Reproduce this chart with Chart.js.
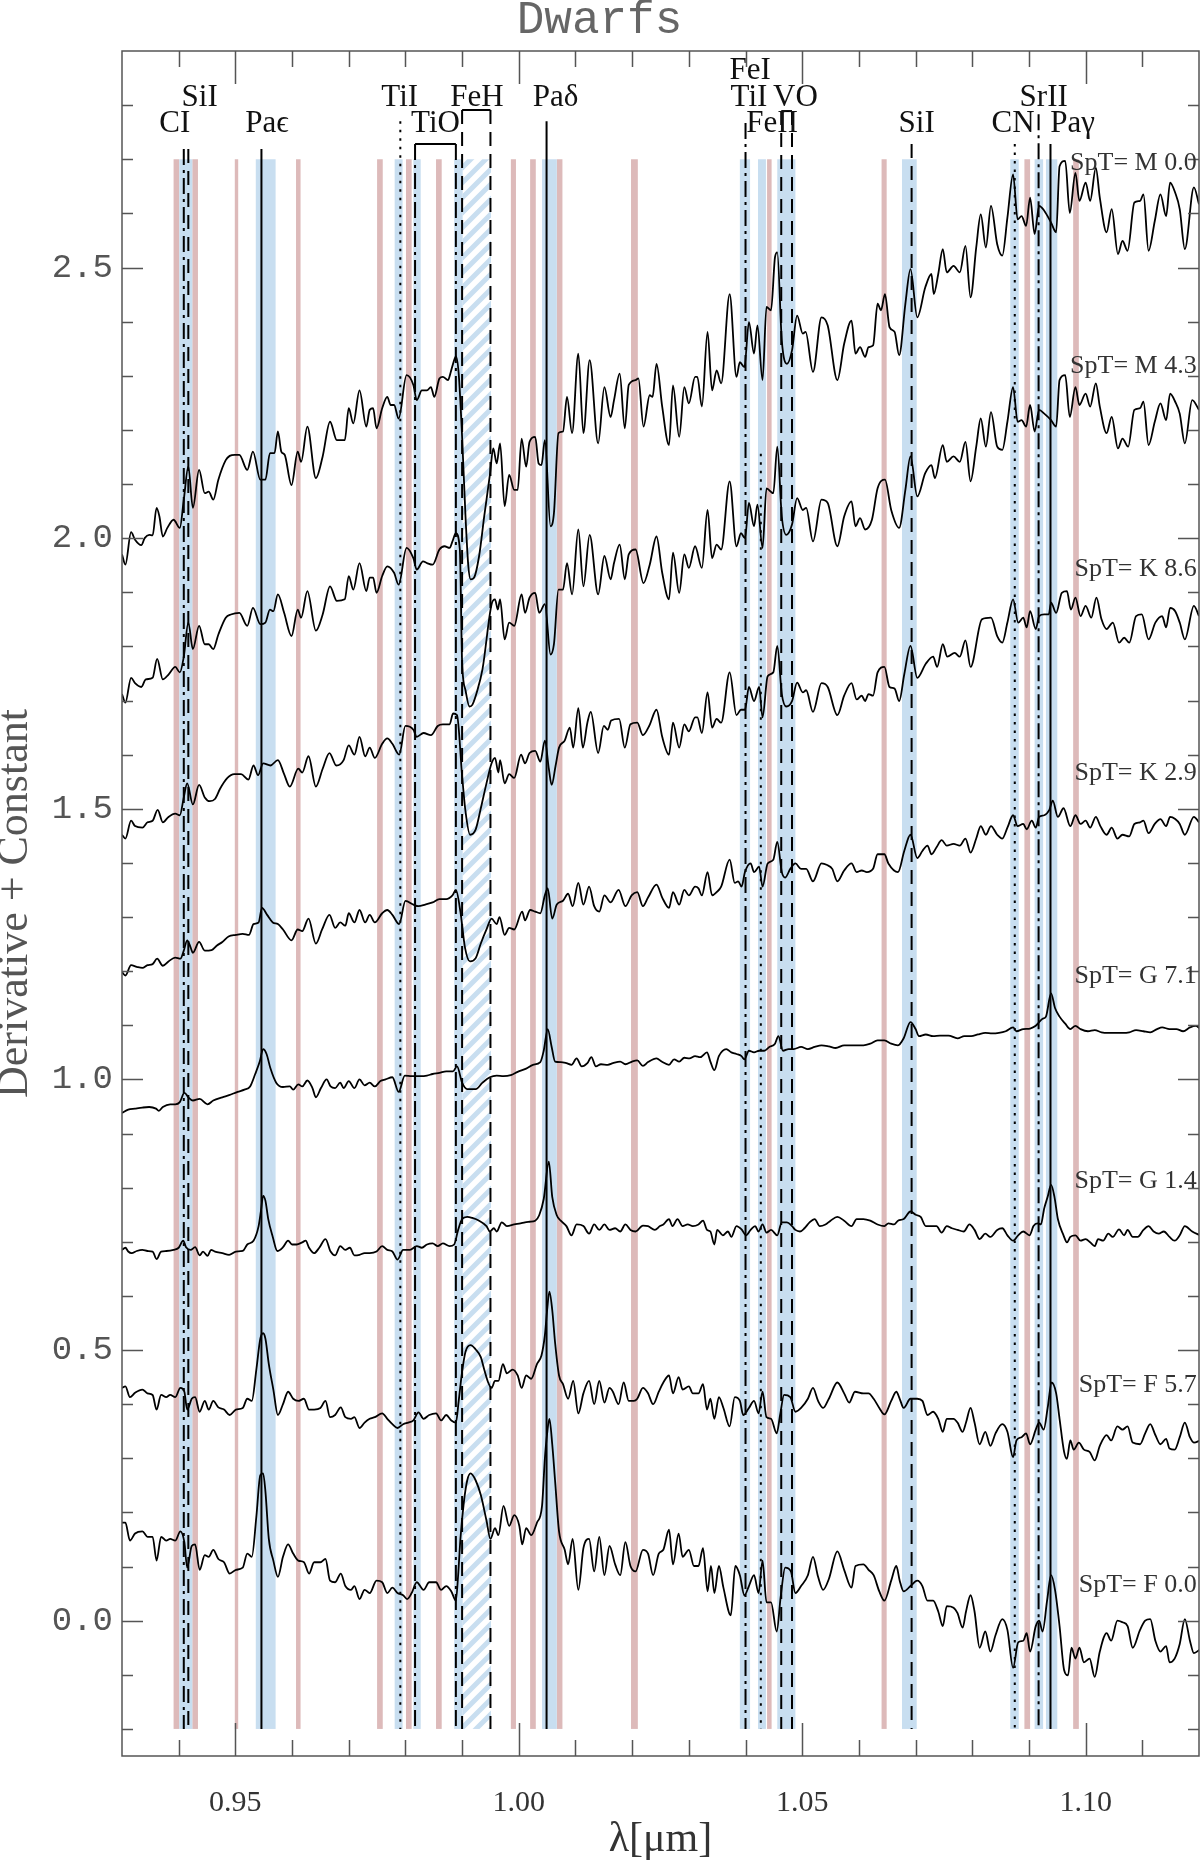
<!DOCTYPE html>
<html>
<head>
<meta charset="utf-8">
<title>Dwarfs</title>
<script src="https://cdn.jsdelivr.net/npm/chart.js@4/dist/chart.umd.min.js"></script>
<style>
  html, body { margin: 0; padding: 0; background: #fff; }
  canvas { display: block; }
</style>
</head>
<body>
<canvas id="chart" width="1200" height="1861"></canvas>
<script>
// axis ticks
const xTickLabels = [0.95, 1.00, 1.05, 1.10];
const xMinorTicks = [0.94, 0.95, 0.96, 0.97, 0.98, 0.99, 1.00, 1.01, 1.02, 1.03, 1.04, 1.05, 1.06, 1.07, 1.08, 1.09, 1.10, 1.11];
const yTickLabels = [0.0, 0.5, 1.0, 1.5, 2.0, 2.5];
const yMinorTicks = [-0.2, -0.1, 0.0, 0.1, 0.2, 0.3, 0.4, 0.5, 0.6, 0.7, 0.8, 0.9, 1.0, 1.1, 1.2, 1.3, 1.4, 1.5, 1.6, 1.7, 1.8, 1.9, 2.0, 2.1, 2.2, 2.3, 2.4, 2.5, 2.6, 2.7, 2.8];

// masked wavelength windows [from, to] in micron
const pinkBands = [[0.9391,0.9401],[0.9424,0.9434],[0.9499,0.9505],[0.9607,0.9615],[0.9750,0.9760],[0.9801,0.9811],[0.9854,0.9864],[0.9986,0.9995],[1.0020,1.0030],[1.0067,1.0077],[1.0198,1.0210],[1.0438,1.0446],[1.0640,1.0649],[1.0892,1.0902],[1.0978,1.0988]];
const blueBands = [[0.9401,0.9424],[0.9536,0.9571],[0.9781,0.9795],[0.9814,0.9827],[0.9886,0.9901],[1.0041,1.0067],[1.0390,1.0408],[1.0422,1.0436],[1.0456,1.0488],[1.0676,1.0702],[1.0867,1.0882],[1.0910,1.0925],[1.0930,1.0950]];
const hatchBand = [0.9901, 0.9951];
const bandRange = [-0.2, 2.7];

// line identifications
const lineWaves  = [0.9409, 0.9417, 0.9546, 0.9791, 0.9817, 0.9889, 0.9900, 0.9950, 1.0049, 1.0400, 1.0427, 1.0463, 1.0482, 1.0693, 1.0875, 1.0917, 1.0938];
const lineTops   = [2.719, 2.719, 2.719, 2.770, 2.728, 2.728, 2.791, 2.791, 2.770, 2.767, 2.156, 2.789, 2.789, 2.728, 2.728, 2.783, 2.728];
const lineStyles = ['dashdot','dashed','solid','dotted','dashdot','dashdot','dashed','dashed','solid','dashdot','dotted','dashed','dashed','dashed','dotted','dashdot','solid'];
const bracketLeft  = [0.9817, 0.9900, 1.0463];
const bracketRight = [0.9889, 0.9950, 1.0482];
const bracketTop   = [2.728, 2.791, 2.789];

const labelTexts = ['CI','SiI','Paϵ','TiI','TiO','FeH','Paδ','FeI','TiI','VO','FeII','SiI','CN','SrII','Paγ'];
const labelWaves = [0.9393, 0.9437, 0.9556, 0.9790, 0.9853, 0.9926, 1.0065, 1.0408, 1.0406, 1.0488, 1.0447, 1.0702, 1.0872, 1.0926, 1.0977];
const labelRows  = [2.765, 2.813, 2.765, 2.813, 2.765, 2.813, 2.813, 2.863, 2.813, 2.813, 2.765, 2.765, 2.765, 2.813, 2.765];

const spectralTypes = ['SpT= M 0.0','SpT= M 4.3','SpT= K 8.6','SpT= K 2.9','SpT= G 7.1','SpT= G 1.4','SpT= F 5.7','SpT= F 0.0'];
const sptLabelY = [2.693, 2.318, 1.943, 1.565, 1.190, 0.812, 0.436, 0.065];
const sptLabelWave = 1.1196;

// spectra: [wavelength, derivative + constant]
const specM00 = [[0.9300,1.970],[0.9306,1.951],[0.9316,2.011],[0.9323,1.997],[0.9334,1.987],[0.9340,2.000],[0.9348,2.006],[0.9354,2.005],[0.9361,2.056],[0.9366,2.040],[0.9372,2.003],[0.9380,2.019],[0.9391,2.034],[0.9402,2.019],[0.9409,2.071],[0.9417,2.132],[0.9425,2.056],[0.9436,2.126],[0.9446,2.083],[0.9453,2.086],[0.9461,2.071],[0.9470,2.108],[0.9483,2.144],[0.9490,2.152],[0.9499,2.154],[0.9507,2.154],[0.9521,2.126],[0.9531,2.160],[0.9544,2.108],[0.9553,2.108],[0.9561,2.157],[0.9569,2.157],[0.9575,2.197],[0.9581,2.160],[0.9587,2.154],[0.9599,2.098],[0.9610,2.160],[0.9616,2.141],[0.9627,2.206],[0.9642,2.111],[0.9654,2.151],[0.9667,2.215],[0.9679,2.181],[0.9693,2.181],[0.9700,2.240],[0.9708,2.212],[0.9719,2.273],[0.9731,2.206],[0.9737,2.237],[0.9743,2.240],[0.9749,2.203],[0.9759,2.240],[0.9768,2.261],[0.9774,2.246],[0.9780,2.246],[0.9788,2.221],[0.9802,2.301],[0.9814,2.283],[0.9820,2.255],[0.9829,2.273],[0.9838,2.273],[0.9845,2.279],[0.9851,2.261],[0.9860,2.295],[0.9866,2.298],[0.9875,2.292],[0.9880,2.307],[0.9884,2.322],[0.9889,2.336],[0.9894,2.304],[0.9900,2.187],[0.9906,2.040],[0.9911,1.948],[0.9915,1.924],[0.9921,1.927],[0.9930,1.967],[0.9939,2.040],[0.9949,2.117],[0.9955,2.166],[0.9961,2.138],[0.9967,2.175],[0.9975,2.059],[0.9983,2.117],[0.9992,2.089],[0.9998,2.089],[1.0005,2.184],[1.0013,2.132],[1.0019,2.178],[1.0029,2.187],[1.0035,2.138],[1.0040,2.135],[1.0046,2.181],[1.0056,2.022],[1.0062,2.046],[1.0070,2.194],[1.0078,2.197],[1.0085,2.261],[1.0094,2.194],[1.0105,2.341],[1.0114,2.194],[1.0125,2.329],[1.0140,2.175],[1.0151,2.279],[1.0162,2.224],[1.0168,2.255],[1.0178,2.304],[1.0187,2.203],[1.0194,2.283],[1.0206,2.292],[1.0211,2.295],[1.0220,2.206],[1.0231,2.264],[1.0236,2.261],[1.0243,2.322],[1.0253,2.243],[1.0265,2.172],[1.0272,2.282],[1.0283,2.187],[1.0292,2.279],[1.0300,2.249],[1.0311,2.298],[1.0315,2.298],[1.0323,2.243],[1.0333,2.381],[1.0341,2.273],[1.0349,2.310],[1.0357,2.286],[1.0372,2.451],[1.0384,2.298],[1.0390,2.325],[1.0398,2.316],[1.0406,2.399],[1.0415,2.341],[1.0421,2.393],[1.0430,2.292],[1.0437,2.427],[1.0445,2.421],[1.0452,2.519],[1.0456,2.528],[1.0464,2.365],[1.0473,2.322],[1.0482,2.347],[1.0491,2.411],[1.0501,2.378],[1.0506,2.381],[1.0519,2.307],[1.0534,2.408],[1.0545,2.393],[1.0562,2.292],[1.0574,2.359],[1.0587,2.402],[1.0594,2.341],[1.0602,2.353],[1.0611,2.335],[1.0617,2.353],[1.0625,2.356],[1.0633,2.433],[1.0639,2.421],[1.0646,2.451],[1.0654,2.390],[1.0663,2.381],[1.0671,2.338],[1.0682,2.433],[1.0691,2.497],[1.0703,2.408],[1.0717,2.463],[1.0728,2.488],[1.0732,2.451],[1.0740,2.488],[1.0748,2.534],[1.0755,2.491],[1.0767,2.503],[1.0778,2.491],[1.0788,2.540],[1.0797,2.445],[1.0807,2.537],[1.0815,2.598],[1.0824,2.537],[1.0833,2.614],[1.0844,2.543],[1.0853,2.522],[1.0862,2.592],[1.0872,2.672],[1.0880,2.589],[1.0887,2.595],[1.0895,2.577],[1.0902,2.629],[1.0910,2.562],[1.0918,2.614],[1.0927,2.605],[1.0939,2.583],[1.0948,2.565],[1.0954,2.687],[1.0964,2.697],[1.0972,2.601],[1.0982,2.675],[1.0989,2.623],[1.1000,2.657],[1.1008,2.623],[1.1018,2.684],[1.1025,2.629],[1.1037,2.565],[1.1046,2.608],[1.1057,2.525],[1.1065,2.549],[1.1074,2.531],[1.1086,2.620],[1.1096,2.623],[1.1102,2.635],[1.1111,2.531],[1.1122,2.586],[1.1132,2.635],[1.1142,2.595],[1.1149,2.657],[1.1158,2.638],[1.1166,2.608],[1.1175,2.534],[1.1191,2.648],[1.1200,2.617]];

const specM43 = [[0.9300,1.712],[0.9306,1.696],[0.9316,1.742],[0.9323,1.732],[0.9334,1.725],[0.9342,1.739],[0.9354,1.742],[0.9362,1.777],[0.9372,1.739],[0.9382,1.748],[0.9394,1.762],[0.9402,1.752],[0.9409,1.781],[0.9417,1.844],[0.9425,1.795],[0.9436,1.838],[0.9446,1.804],[0.9453,1.804],[0.9461,1.795],[0.9470,1.822],[0.9483,1.853],[0.9492,1.859],[0.9507,1.862],[0.9521,1.838],[0.9531,1.871],[0.9544,1.841],[0.9553,1.844],[0.9561,1.868],[0.9567,1.865],[0.9575,1.896],[0.9586,1.862],[0.9599,1.819],[0.9610,1.868],[0.9616,1.853],[0.9627,1.902],[0.9642,1.829],[0.9654,1.859],[0.9667,1.911],[0.9679,1.884],[0.9693,1.887],[0.9700,1.930],[0.9708,1.905],[0.9719,1.954],[0.9731,1.902],[0.9737,1.927],[0.9743,1.927],[0.9749,1.899],[0.9759,1.930],[0.9768,1.948],[0.9780,1.936],[0.9788,1.914],[0.9802,1.982],[0.9814,1.963],[0.9820,1.942],[0.9831,1.957],[0.9838,1.954],[0.9848,1.951],[0.9860,1.979],[0.9869,1.985],[0.9878,1.982],[0.9883,1.994],[0.9889,2.009],[0.9896,1.979],[0.9900,1.771],[0.9906,1.719],[0.9913,1.689],[0.9918,1.692],[0.9927,1.719],[0.9936,1.758],[0.9952,1.878],[0.9958,1.887],[0.9963,1.868],[0.9967,1.887],[0.9975,1.813],[0.9983,1.844],[0.9992,1.838],[1.0005,1.896],[1.0011,1.862],[1.0019,1.890],[1.0029,1.899],[1.0036,1.862],[1.0046,1.878],[1.0056,1.785],[1.0062,1.804],[1.0070,1.905],[1.0078,1.905],[1.0085,1.954],[1.0094,1.896],[1.0105,2.016],[1.0114,1.911],[1.0125,2.006],[1.0140,1.896],[1.0151,1.967],[1.0162,1.924],[1.0168,1.954],[1.0178,1.988],[1.0187,1.924],[1.0194,1.970],[1.0206,1.979],[1.0220,1.917],[1.0231,1.951],[1.0243,2.003],[1.0253,1.936],[1.0265,1.887],[1.0272,1.973],[1.0283,1.899],[1.0292,1.970],[1.0300,1.945],[1.0311,1.985],[1.0323,1.945],[1.0333,2.052],[1.0341,1.963],[1.0349,1.988],[1.0357,1.979],[1.0372,2.105],[1.0384,1.985],[1.0392,2.009],[1.0399,2.000],[1.0406,2.065],[1.0415,2.022],[1.0421,2.062],[1.0430,1.982],[1.0437,2.092],[1.0449,2.083],[1.0456,2.169],[1.0464,2.040],[1.0472,2.006],[1.0482,2.025],[1.0491,2.074],[1.0501,2.052],[1.0507,2.056],[1.0519,1.994],[1.0534,2.071],[1.0545,2.065],[1.0562,1.985],[1.0574,2.040],[1.0587,2.068],[1.0594,2.022],[1.0602,2.037],[1.0611,2.016],[1.0623,2.034],[1.0633,2.092],[1.0646,2.108],[1.0657,2.052],[1.0671,2.019],[1.0682,2.089],[1.0691,2.151],[1.0703,2.077],[1.0717,2.120],[1.0728,2.135],[1.0734,2.111],[1.0748,2.172],[1.0755,2.141],[1.0767,2.151],[1.0778,2.141],[1.0788,2.178],[1.0797,2.105],[1.0807,2.169],[1.0815,2.221],[1.0824,2.169],[1.0833,2.233],[1.0844,2.169],[1.0853,2.163],[1.0862,2.215],[1.0872,2.279],[1.0880,2.215],[1.0887,2.218],[1.0895,2.206],[1.0902,2.246],[1.0910,2.197],[1.0918,2.237],[1.0927,2.230],[1.0939,2.218],[1.0948,2.206],[1.0954,2.292],[1.0964,2.301],[1.0972,2.224],[1.0982,2.279],[1.0989,2.246],[1.1000,2.267],[1.1008,2.243],[1.1018,2.286],[1.1025,2.243],[1.1037,2.194],[1.1046,2.224],[1.1057,2.166],[1.1065,2.184],[1.1075,2.169],[1.1086,2.237],[1.1096,2.240],[1.1102,2.252],[1.1111,2.172],[1.1122,2.215],[1.1132,2.249],[1.1142,2.218],[1.1149,2.267],[1.1158,2.252],[1.1166,2.230],[1.1175,2.175],[1.1188,2.255],[1.1200,2.237]];

const specK86 = [[0.9300,1.452],[0.9306,1.445],[0.9316,1.478],[0.9323,1.468],[0.9336,1.465],[0.9345,1.475],[0.9354,1.478],[0.9363,1.498],[0.9372,1.475],[0.9382,1.485],[0.9394,1.491],[0.9402,1.488],[0.9409,1.521],[0.9415,1.547],[0.9425,1.508],[0.9436,1.544],[0.9446,1.521],[0.9455,1.514],[0.9464,1.518],[0.9473,1.537],[0.9486,1.557],[0.9498,1.564],[0.9510,1.564],[0.9523,1.554],[0.9532,1.580],[0.9540,1.562],[0.9549,1.584],[0.9562,1.580],[0.9575,1.590],[0.9586,1.564],[0.9596,1.541],[0.9611,1.574],[0.9618,1.567],[0.9629,1.597],[0.9642,1.541],[0.9654,1.574],[0.9666,1.603],[0.9678,1.580],[0.9691,1.590],[0.9700,1.617],[0.9710,1.600],[0.9719,1.633],[0.9729,1.597],[0.9737,1.613],[0.9746,1.594],[0.9759,1.620],[0.9768,1.630],[0.9777,1.620],[0.9789,1.600],[0.9800,1.653],[0.9814,1.646],[0.9820,1.633],[0.9832,1.640],[0.9845,1.636],[0.9857,1.653],[0.9866,1.656],[0.9878,1.656],[0.9884,1.676],[0.9891,1.673],[0.9900,1.561],[0.9906,1.495],[0.9914,1.452],[0.9924,1.462],[0.9933,1.501],[0.9943,1.547],[0.9952,1.584],[0.9958,1.594],[0.9964,1.567],[0.9967,1.590],[0.9975,1.547],[0.9983,1.564],[0.9992,1.557],[1.0004,1.600],[1.0011,1.584],[1.0019,1.603],[1.0029,1.607],[1.0038,1.587],[1.0046,1.626],[1.0053,1.574],[1.0058,1.544],[1.0065,1.580],[1.0071,1.613],[1.0081,1.626],[1.0090,1.650],[1.0096,1.613],[1.0105,1.686],[1.0113,1.613],[1.0121,1.659],[1.0127,1.679],[1.0140,1.603],[1.0150,1.653],[1.0157,1.646],[1.0163,1.663],[1.0177,1.666],[1.0187,1.613],[1.0197,1.656],[1.0209,1.659],[1.0219,1.636],[1.0230,1.653],[1.0243,1.683],[1.0253,1.633],[1.0265,1.600],[1.0272,1.659],[1.0283,1.613],[1.0292,1.656],[1.0300,1.643],[1.0311,1.669],[1.0315,1.669],[1.0323,1.640],[1.0333,1.715],[1.0341,1.650],[1.0349,1.666],[1.0357,1.659],[1.0372,1.752],[1.0384,1.673],[1.0392,1.683],[1.0399,1.683],[1.0406,1.725],[1.0415,1.699],[1.0424,1.725],[1.0430,1.669],[1.0439,1.745],[1.0449,1.752],[1.0456,1.801],[1.0464,1.712],[1.0472,1.689],[1.0482,1.699],[1.0491,1.733],[1.0501,1.715],[1.0507,1.719],[1.0519,1.679],[1.0534,1.732],[1.0545,1.725],[1.0562,1.673],[1.0574,1.709],[1.0587,1.732],[1.0596,1.702],[1.0605,1.709],[1.0611,1.699],[1.0617,1.712],[1.0625,1.709],[1.0633,1.752],[1.0645,1.762],[1.0654,1.725],[1.0663,1.722],[1.0671,1.699],[1.0680,1.748],[1.0691,1.801],[1.0703,1.742],[1.0718,1.768],[1.0731,1.781],[1.0738,1.762],[1.0748,1.804],[1.0756,1.781],[1.0769,1.788],[1.0778,1.781],[1.0788,1.811],[1.0797,1.762],[1.0817,1.850],[1.0833,1.853],[1.0844,1.819],[1.0853,1.807],[1.0862,1.844],[1.0872,1.887],[1.0881,1.844],[1.0890,1.853],[1.0896,1.835],[1.0902,1.865],[1.0912,1.832],[1.0918,1.856],[1.0927,1.859],[1.0935,1.859],[1.0939,1.881],[1.0948,1.862],[1.0958,1.899],[1.0967,1.902],[1.0974,1.868],[1.0982,1.890],[1.0991,1.856],[1.1000,1.875],[1.1010,1.853],[1.1019,1.890],[1.1028,1.850],[1.1037,1.832],[1.1048,1.844],[1.1059,1.807],[1.1068,1.816],[1.1077,1.807],[1.1089,1.856],[1.1099,1.859],[1.1111,1.813],[1.1123,1.844],[1.1135,1.856],[1.1142,1.835],[1.1149,1.871],[1.1158,1.865],[1.1166,1.844],[1.1175,1.813],[1.1191,1.875],[1.1200,1.856]];

const specK29 = [[0.9300,1.198],[0.9306,1.192],[0.9316,1.211],[0.9326,1.208],[0.9336,1.206],[0.9345,1.211],[0.9354,1.213],[0.9362,1.223],[0.9372,1.210],[0.9382,1.218],[0.9394,1.225],[0.9403,1.223],[0.9409,1.238],[0.9415,1.257],[0.9421,1.244],[0.9425,1.234],[0.9436,1.254],[0.9446,1.238],[0.9458,1.239],[0.9467,1.247],[0.9477,1.254],[0.9488,1.264],[0.9501,1.267],[0.9513,1.269],[0.9524,1.267],[0.9532,1.287],[0.9541,1.290],[0.9547,1.317],[0.9556,1.304],[0.9566,1.290],[0.9575,1.287],[0.9584,1.277],[0.9599,1.257],[0.9610,1.277],[0.9618,1.274],[0.9629,1.297],[0.9642,1.251],[0.9653,1.277],[0.9666,1.304],[0.9676,1.280],[0.9685,1.290],[0.9694,1.284],[0.9700,1.307],[0.9710,1.290],[0.9719,1.313],[0.9729,1.290],[0.9737,1.304],[0.9746,1.290],[0.9759,1.307],[0.9768,1.313],[0.9777,1.304],[0.9789,1.287],[0.9800,1.330],[0.9814,1.323],[0.9823,1.320],[0.9835,1.323],[0.9848,1.327],[0.9860,1.333],[0.9872,1.333],[0.9883,1.340],[0.9889,1.350],[0.9897,1.310],[0.9905,1.244],[0.9914,1.218],[0.9924,1.224],[0.9933,1.251],[0.9943,1.277],[0.9952,1.297],[0.9961,1.287],[0.9966,1.300],[0.9975,1.267],[0.9983,1.280],[0.9992,1.277],[1.0006,1.310],[1.0011,1.294],[1.0020,1.313],[1.0029,1.310],[1.0038,1.307],[1.0046,1.340],[1.0051,1.353],[1.0059,1.297],[1.0067,1.323],[1.0078,1.330],[1.0087,1.343],[1.0095,1.320],[1.0105,1.363],[1.0114,1.323],[1.0124,1.356],[1.0133,1.320],[1.0142,1.310],[1.0151,1.340],[1.0162,1.327],[1.0176,1.350],[1.0188,1.320],[1.0199,1.340],[1.0209,1.346],[1.0219,1.320],[1.0228,1.336],[1.0243,1.360],[1.0253,1.336],[1.0265,1.317],[1.0272,1.346],[1.0283,1.323],[1.0292,1.350],[1.0300,1.340],[1.0311,1.356],[1.0317,1.353],[1.0323,1.340],[1.0333,1.383],[1.0341,1.340],[1.0349,1.346],[1.0357,1.356],[1.0372,1.406],[1.0381,1.363],[1.0387,1.366],[1.0393,1.356],[1.0399,1.383],[1.0409,1.399],[1.0415,1.383],[1.0424,1.393],[1.0430,1.356],[1.0439,1.399],[1.0449,1.406],[1.0456,1.439],[1.0464,1.383],[1.0470,1.373],[1.0479,1.389],[1.0488,1.399],[1.0498,1.389],[1.0507,1.389],[1.0519,1.366],[1.0534,1.399],[1.0544,1.396],[1.0553,1.389],[1.0562,1.366],[1.0574,1.386],[1.0587,1.399],[1.0596,1.383],[1.0605,1.386],[1.0614,1.383],[1.0625,1.389],[1.0633,1.416],[1.0645,1.416],[1.0652,1.399],[1.0669,1.383],[1.0680,1.422],[1.0691,1.452],[1.0703,1.409],[1.0712,1.422],[1.0721,1.432],[1.0728,1.416],[1.0737,1.429],[1.0746,1.442],[1.0755,1.432],[1.0767,1.435],[1.0778,1.432],[1.0788,1.445],[1.0797,1.419],[1.0807,1.445],[1.0815,1.468],[1.0824,1.452],[1.0833,1.468],[1.0844,1.452],[1.0853,1.445],[1.0862,1.465],[1.0872,1.488],[1.0880,1.468],[1.0890,1.472],[1.0896,1.462],[1.0905,1.478],[1.0912,1.465],[1.0918,1.485],[1.0927,1.488],[1.0936,1.498],[1.0942,1.515],[1.0951,1.485],[1.0961,1.501],[1.0973,1.468],[1.0982,1.488],[1.0991,1.472],[1.1000,1.478],[1.1008,1.465],[1.1018,1.485],[1.1026,1.468],[1.1037,1.452],[1.1046,1.465],[1.1056,1.445],[1.1065,1.452],[1.1077,1.449],[1.1086,1.472],[1.1096,1.475],[1.1102,1.478],[1.1111,1.455],[1.1122,1.472],[1.1132,1.481],[1.1142,1.468],[1.1149,1.485],[1.1158,1.481],[1.1166,1.472],[1.1175,1.452],[1.1191,1.485],[1.1200,1.475]];

const specG71 = [[0.9300,0.938],[0.9311,0.944],[0.9323,0.946],[0.9336,0.948],[0.9348,0.949],[0.9360,0.946],[0.9365,0.942],[0.9372,0.949],[0.9385,0.954],[0.9394,0.954],[0.9402,0.958],[0.9410,0.975],[0.9418,0.966],[0.9425,0.961],[0.9437,0.964],[0.9451,0.954],[0.9461,0.961],[0.9477,0.967],[0.9489,0.971],[0.9504,0.977],[0.9516,0.981],[0.9526,0.987],[0.9535,1.010],[0.9543,1.033],[0.9549,1.056],[0.9555,1.047],[0.9562,1.020],[0.9572,0.994],[0.9584,0.986],[0.9596,0.987],[0.9602,0.981],[0.9611,0.991],[0.9618,0.987],[0.9627,0.998],[0.9636,0.984],[0.9642,0.967],[0.9651,0.984],[0.9661,1.000],[0.9668,0.987],[0.9676,0.984],[0.9685,0.994],[0.9691,0.984],[0.9700,0.997],[0.9710,0.984],[0.9719,1.000],[0.9728,0.989],[0.9737,0.994],[0.9746,0.987],[0.9756,0.997],[0.9765,1.000],[0.9777,1.004],[0.9788,0.977],[0.9799,1.007],[0.9811,1.006],[0.9826,1.006],[0.9838,1.007],[0.9848,1.010],[0.9860,1.012],[0.9872,1.015],[0.9884,1.015],[0.9891,1.024],[0.9900,0.994],[0.9909,0.982],[0.9924,0.982],[0.9936,0.994],[0.9949,1.004],[0.9961,1.007],[0.9973,1.006],[0.9986,1.008],[0.9998,1.014],[1.0013,1.020],[1.0025,1.027],[1.0038,1.032],[1.0044,1.053],[1.0051,1.093],[1.0058,1.060],[1.0064,1.033],[1.0074,1.032],[1.0084,1.030],[1.0093,1.027],[1.0102,1.039],[1.0111,1.024],[1.0121,1.030],[1.0128,1.041],[1.0136,1.024],[1.0145,1.028],[1.0157,1.027],[1.0166,1.030],[1.0179,1.033],[1.0188,1.028],[1.0200,1.033],[1.0209,1.035],[1.0219,1.025],[1.0228,1.032],[1.0243,1.039],[1.0252,1.033],[1.0265,1.027],[1.0274,1.037],[1.0283,1.033],[1.0292,1.040],[1.0301,1.039],[1.0311,1.043],[1.0320,1.041],[1.0332,1.050],[1.0338,1.033],[1.0345,1.017],[1.0353,1.043],[1.0366,1.056],[1.0375,1.050],[1.0384,1.047],[1.0393,1.043],[1.0398,1.037],[1.0406,1.053],[1.0415,1.050],[1.0424,1.053],[1.0433,1.053],[1.0442,1.060],[1.0452,1.066],[1.0458,1.080],[1.0466,1.053],[1.0476,1.056],[1.0485,1.056],[1.0498,1.060],[1.0510,1.056],[1.0522,1.060],[1.0534,1.063],[1.0547,1.061],[1.0559,1.058],[1.0574,1.063],[1.0587,1.063],[1.0608,1.063],[1.0620,1.066],[1.0633,1.072],[1.0645,1.072],[1.0657,1.066],[1.0669,1.063],[1.0679,1.076],[1.0691,1.106],[1.0700,1.093],[1.0706,1.080],[1.0718,1.083],[1.0731,1.080],[1.0743,1.081],[1.0758,1.081],[1.0774,1.076],[1.0786,1.080],[1.0798,1.080],[1.0810,1.083],[1.0823,1.086],[1.0835,1.085],[1.0847,1.086],[1.0859,1.089],[1.0872,1.096],[1.0878,1.089],[1.0890,1.093],[1.0902,1.094],[1.0912,1.099],[1.0918,1.106],[1.0924,1.112],[1.0930,1.116],[1.0939,1.159],[1.0946,1.132],[1.0954,1.116],[1.0964,1.103],[1.0973,1.093],[1.0982,1.099],[1.0991,1.093],[1.1004,1.089],[1.1016,1.091],[1.1028,1.087],[1.1040,1.086],[1.1053,1.086],[1.1065,1.086],[1.1077,1.087],[1.1089,1.091],[1.1102,1.089],[1.1114,1.087],[1.1126,1.093],[1.1135,1.096],[1.1148,1.093],[1.1160,1.093],[1.1172,1.089],[1.1184,1.096],[1.1194,1.099],[1.1202,1.094]];

const specG14 = [[0.9300,0.685],[0.9306,0.689],[0.9311,0.682],[0.9317,0.679],[0.9326,0.683],[0.9336,0.685],[0.9345,0.683],[0.9354,0.682],[0.9361,0.668],[0.9369,0.682],[0.9378,0.683],[0.9391,0.685],[0.9400,0.689],[0.9408,0.702],[0.9413,0.690],[0.9421,0.685],[0.9429,0.690],[0.9437,0.675],[0.9443,0.682],[0.9451,0.674],[0.9457,0.685],[0.9464,0.682],[0.9477,0.679],[0.9489,0.676],[0.9501,0.682],[0.9513,0.683],[0.9521,0.695],[0.9532,0.702],[0.9541,0.729],[0.9545,0.756],[0.9549,0.785],[0.9553,0.776],[0.9558,0.742],[0.9566,0.709],[0.9574,0.683],[0.9584,0.690],[0.9593,0.702],[0.9600,0.695],[0.9608,0.695],[0.9618,0.699],[0.9624,0.702],[0.9630,0.689],[0.9639,0.679],[0.9648,0.689],[0.9659,0.705],[0.9668,0.682],[0.9676,0.675],[0.9685,0.692],[0.9694,0.685],[0.9702,0.689],[0.9710,0.675],[0.9719,0.676],[0.9728,0.679],[0.9737,0.679],[0.9749,0.682],[0.9759,0.692],[0.9768,0.685],[0.9777,0.682],[0.9786,0.667],[0.9796,0.685],[0.9808,0.685],[0.9820,0.692],[0.9829,0.689],[0.9838,0.695],[0.9848,0.697],[0.9857,0.692],[0.9866,0.697],[0.9878,0.692],[0.9886,0.695],[0.9893,0.722],[0.9900,0.742],[0.9909,0.746],[0.9918,0.744],[0.9930,0.739],[0.9943,0.729],[0.9949,0.719],[0.9956,0.725],[0.9961,0.719],[0.9970,0.736],[0.9979,0.729],[0.9992,0.732],[1.0003,0.734],[1.0011,0.736],[1.0019,0.737],[1.0029,0.739],[1.0036,0.749],[1.0044,0.779],[1.0053,0.848],[1.0059,0.783],[1.0067,0.749],[1.0074,0.739],[1.0084,0.729],[1.0093,0.712],[1.0102,0.732],[1.0114,0.729],[1.0124,0.715],[1.0133,0.732],[1.0142,0.722],[1.0151,0.732],[1.0160,0.722],[1.0170,0.725],[1.0179,0.719],[1.0188,0.732],[1.0197,0.722],[1.0206,0.719],[1.0219,0.730],[1.0228,0.729],[1.0240,0.722],[1.0249,0.729],[1.0255,0.732],[1.0265,0.742],[1.0271,0.729],[1.0280,0.742],[1.0289,0.729],[1.0298,0.732],[1.0307,0.729],[1.0317,0.732],[1.0325,0.739],[1.0332,0.722],[1.0338,0.719],[1.0345,0.695],[1.0350,0.722],[1.0360,0.712],[1.0369,0.719],[1.0375,0.709],[1.0384,0.729],[1.0393,0.723],[1.0401,0.712],[1.0409,0.722],[1.0417,0.729],[1.0423,0.719],[1.0430,0.732],[1.0437,0.717],[1.0445,0.722],[1.0456,0.712],[1.0464,0.736],[1.0473,0.736],[1.0482,0.729],[1.0488,0.722],[1.0496,0.719],[1.0504,0.725],[1.0513,0.736],[1.0522,0.742],[1.0531,0.729],[1.0541,0.732],[1.0550,0.739],[1.0562,0.746],[1.0574,0.739],[1.0587,0.729],[1.0596,0.742],[1.0608,0.742],[1.0620,0.739],[1.0633,0.732],[1.0645,0.729],[1.0652,0.734],[1.0662,0.732],[1.0669,0.739],[1.0679,0.742],[1.0691,0.756],[1.0700,0.750],[1.0709,0.746],[1.0718,0.729],[1.0728,0.729],[1.0737,0.729],[1.0746,0.717],[1.0755,0.729],[1.0764,0.725],[1.0774,0.722],[1.0785,0.719],[1.0795,0.732],[1.0804,0.722],[1.0813,0.705],[1.0823,0.715],[1.0832,0.709],[1.0844,0.722],[1.0853,0.725],[1.0862,0.712],[1.0872,0.702],[1.0881,0.712],[1.0890,0.719],[1.0901,0.712],[1.0908,0.729],[1.0915,0.734],[1.0921,0.732],[1.0927,0.762],[1.0933,0.783],[1.0939,0.805],[1.0945,0.783],[1.0951,0.742],[1.0961,0.712],[1.0967,0.699],[1.0973,0.709],[1.0982,0.712],[1.0991,0.702],[1.1000,0.705],[1.1008,0.699],[1.1016,0.692],[1.1022,0.705],[1.1031,0.702],[1.1040,0.715],[1.1048,0.709],[1.1059,0.723],[1.1068,0.712],[1.1074,0.722],[1.1083,0.709],[1.1092,0.709],[1.1102,0.722],[1.1111,0.729],[1.1120,0.719],[1.1129,0.715],[1.1138,0.719],[1.1148,0.709],[1.1157,0.702],[1.1166,0.712],[1.1175,0.729],[1.1188,0.719],[1.1202,0.712]];

const specF57 = [[0.9300,0.430],[0.9306,0.433],[0.9314,0.413],[0.9323,0.421],[0.9336,0.427],[0.9345,0.420],[0.9354,0.417],[0.9361,0.390],[0.9369,0.417],[0.9378,0.413],[0.9385,0.417],[0.9394,0.413],[0.9403,0.430],[0.9410,0.423],[0.9415,0.390],[0.9423,0.410],[0.9429,0.413],[0.9437,0.386],[0.9446,0.406],[0.9453,0.390],[0.9461,0.406],[0.9470,0.394],[0.9480,0.390],[0.9490,0.380],[0.9501,0.390],[0.9513,0.393],[0.9521,0.410],[0.9529,0.406],[0.9537,0.464],[0.9544,0.521],[0.9549,0.531],[0.9553,0.521],[0.9559,0.474],[0.9567,0.427],[0.9575,0.380],[0.9584,0.400],[0.9593,0.423],[0.9602,0.410],[0.9611,0.406],[0.9621,0.410],[0.9630,0.390],[0.9639,0.390],[0.9650,0.393],[0.9659,0.406],[0.9667,0.376],[0.9676,0.380],[0.9686,0.394],[0.9694,0.376],[0.9704,0.373],[0.9710,0.376],[0.9719,0.356],[0.9728,0.366],[0.9737,0.373],[0.9746,0.376],[0.9759,0.383],[0.9768,0.373],[0.9777,0.363],[0.9786,0.356],[0.9796,0.363],[0.9805,0.366],[0.9814,0.370],[0.9823,0.385],[0.9832,0.373],[0.9842,0.380],[0.9854,0.383],[0.9863,0.370],[0.9872,0.380],[0.9881,0.370],[0.9889,0.366],[0.9894,0.406],[0.9900,0.460],[0.9906,0.497],[0.9915,0.509],[0.9924,0.501],[0.9933,0.487],[0.9939,0.464],[0.9946,0.440],[0.9952,0.430],[0.9958,0.443],[0.9964,0.443],[0.9972,0.474],[0.9979,0.457],[0.9989,0.464],[0.9998,0.453],[1.0005,0.430],[1.0013,0.453],[1.0022,0.447],[1.0032,0.474],[1.0040,0.490],[1.0046,0.527],[1.0050,0.574],[1.0054,0.608],[1.0059,0.574],[1.0064,0.514],[1.0071,0.453],[1.0078,0.437],[1.0087,0.410],[1.0096,0.443],[1.0105,0.383],[1.0114,0.420],[1.0124,0.443],[1.0133,0.400],[1.0142,0.443],[1.0151,0.403],[1.0160,0.430],[1.0166,0.423],[1.0176,0.400],[1.0185,0.440],[1.0194,0.406],[1.0203,0.406],[1.0209,0.410],[1.0219,0.430],[1.0228,0.420],[1.0237,0.400],[1.0247,0.423],[1.0255,0.440],[1.0265,0.453],[1.0272,0.420],[1.0282,0.450],[1.0289,0.427],[1.0300,0.433],[1.0307,0.420],[1.0317,0.420],[1.0325,0.437],[1.0332,0.390],[1.0338,0.410],[1.0345,0.373],[1.0353,0.413],[1.0361,0.393],[1.0372,0.359],[1.0381,0.413],[1.0390,0.406],[1.0396,0.380],[1.0406,0.393],[1.0415,0.406],[1.0423,0.383],[1.0430,0.423],[1.0437,0.376],[1.0445,0.373],[1.0455,0.346],[1.0461,0.380],[1.0468,0.417],[1.0479,0.413],[1.0488,0.386],[1.0498,0.393],[1.0510,0.410],[1.0519,0.430],[1.0528,0.406],[1.0537,0.393],[1.0547,0.410],[1.0562,0.440],[1.0574,0.420],[1.0583,0.403],[1.0593,0.423],[1.0608,0.420],[1.0617,0.420],[1.0626,0.410],[1.0636,0.393],[1.0645,0.381],[1.0657,0.406],[1.0666,0.423],[1.0672,0.410],[1.0679,0.393],[1.0691,0.410],[1.0703,0.410],[1.0712,0.406],[1.0721,0.380],[1.0731,0.386],[1.0740,0.373],[1.0748,0.349],[1.0755,0.373],[1.0767,0.373],[1.0774,0.366],[1.0783,0.349],[1.0789,0.366],[1.0797,0.393],[1.0804,0.366],[1.0813,0.326],[1.0823,0.349],[1.0832,0.323],[1.0841,0.346],[1.0853,0.363],[1.0862,0.349],[1.0872,0.302],[1.0878,0.333],[1.0887,0.339],[1.0895,0.346],[1.0902,0.326],[1.0912,0.353],[1.0918,0.366],[1.0926,0.353],[1.0933,0.393],[1.0940,0.440],[1.0948,0.420],[1.0954,0.373],[1.0962,0.312],[1.0967,0.299],[1.0973,0.333],[1.0979,0.316],[1.0988,0.329],[1.0997,0.316],[1.1007,0.312],[1.1016,0.296],[1.1025,0.323],[1.1037,0.343],[1.1045,0.333],[1.1056,0.359],[1.1065,0.353],[1.1074,0.359],[1.1083,0.329],[1.1096,0.326],[1.1105,0.346],[1.1114,0.363],[1.1123,0.343],[1.1132,0.326],[1.1142,0.336],[1.1148,0.318],[1.1157,0.316],[1.1166,0.339],[1.1175,0.366],[1.1184,0.339],[1.1191,0.329],[1.1202,0.333]];

const specF00 = [[0.9300,0.181],[0.9306,0.181],[0.9314,0.148],[0.9323,0.161],[0.9336,0.165],[0.9345,0.155],[0.9354,0.155],[0.9361,0.111],[0.9369,0.155],[0.9378,0.148],[0.9385,0.151],[0.9394,0.148],[0.9403,0.165],[0.9410,0.145],[0.9415,0.098],[0.9423,0.138],[0.9429,0.141],[0.9437,0.094],[0.9446,0.121],[0.9453,0.118],[0.9461,0.131],[0.9470,0.114],[0.9480,0.108],[0.9490,0.087],[0.9501,0.094],[0.9513,0.098],[0.9521,0.124],[0.9529,0.118],[0.9537,0.192],[0.9544,0.269],[0.9549,0.272],[0.9553,0.239],[0.9559,0.151],[0.9567,0.111],[0.9575,0.081],[0.9584,0.118],[0.9593,0.141],[0.9602,0.124],[0.9611,0.111],[0.9621,0.108],[0.9630,0.087],[0.9639,0.108],[0.9650,0.108],[0.9659,0.114],[0.9667,0.074],[0.9676,0.071],[0.9686,0.087],[0.9694,0.064],[0.9704,0.057],[0.9710,0.064],[0.9719,0.040],[0.9728,0.057],[0.9737,0.051],[0.9749,0.074],[0.9759,0.071],[0.9768,0.051],[0.9777,0.061],[0.9786,0.051],[0.9796,0.047],[0.9803,0.040],[0.9811,0.051],[0.9820,0.071],[0.9832,0.057],[0.9842,0.071],[0.9854,0.071],[0.9863,0.057],[0.9872,0.064],[0.9881,0.054],[0.9889,0.037],[0.9893,0.084],[0.9897,0.151],[0.9903,0.218],[0.9909,0.259],[0.9915,0.272],[0.9924,0.259],[0.9933,0.232],[0.9943,0.185],[0.9950,0.151],[0.9958,0.171],[0.9964,0.158],[0.9973,0.212],[0.9983,0.175],[0.9992,0.195],[1.0001,0.175],[1.0006,0.141],[1.0013,0.171],[1.0022,0.158],[1.0032,0.181],[1.0041,0.212],[1.0046,0.299],[1.0050,0.346],[1.0054,0.373],[1.0059,0.326],[1.0064,0.259],[1.0071,0.165],[1.0081,0.131],[1.0087,0.104],[1.0095,0.151],[1.0105,0.057],[1.0114,0.134],[1.0124,0.151],[1.0133,0.091],[1.0142,0.155],[1.0151,0.084],[1.0160,0.138],[1.0170,0.104],[1.0179,0.084],[1.0188,0.145],[1.0197,0.101],[1.0206,0.091],[1.0219,0.131],[1.0228,0.124],[1.0237,0.084],[1.0247,0.124],[1.0255,0.131],[1.0265,0.168],[1.0272,0.104],[1.0282,0.161],[1.0289,0.118],[1.0300,0.131],[1.0309,0.101],[1.0317,0.101],[1.0325,0.134],[1.0333,0.054],[1.0339,0.101],[1.0345,0.051],[1.0353,0.101],[1.0361,0.061],[1.0374,0.010],[1.0382,0.101],[1.0390,0.084],[1.0398,0.047],[1.0406,0.064],[1.0415,0.084],[1.0423,0.051],[1.0430,0.111],[1.0437,0.034],[1.0445,0.034],[1.0455,-0.020],[1.0462,0.044],[1.0470,0.098],[1.0480,0.091],[1.0488,0.051],[1.0498,0.064],[1.0510,0.084],[1.0519,0.118],[1.0528,0.081],[1.0537,0.057],[1.0547,0.077],[1.0562,0.128],[1.0574,0.094],[1.0587,0.061],[1.0594,0.101],[1.0608,0.104],[1.0617,0.094],[1.0626,0.084],[1.0636,0.054],[1.0645,0.037],[1.0657,0.074],[1.0666,0.101],[1.0672,0.074],[1.0679,0.054],[1.0691,0.064],[1.0703,0.074],[1.0712,0.064],[1.0721,0.037],[1.0731,0.037],[1.0740,0.017],[1.0748,-0.010],[1.0755,0.027],[1.0767,0.024],[1.0774,0.014],[1.0783,-0.013],[1.0789,0.017],[1.0797,0.047],[1.0804,0.017],[1.0813,-0.050],[1.0823,-0.020],[1.0832,-0.057],[1.0841,-0.027],[1.0853,0.003],[1.0862,-0.017],[1.0872,-0.087],[1.0881,-0.040],[1.0890,-0.037],[1.0896,-0.023],[1.0902,-0.057],[1.0912,-0.010],[1.0918,0.000],[1.0924,-0.020],[1.0932,0.037],[1.0939,0.084],[1.0946,0.057],[1.0954,-0.010],[1.0962,-0.091],[1.0969,-0.101],[1.0975,-0.050],[1.0982,-0.070],[1.0989,-0.050],[1.0997,-0.077],[1.1007,-0.070],[1.1016,-0.104],[1.1025,-0.057],[1.1037,-0.023],[1.1045,-0.037],[1.1056,0.000],[1.1065,-0.003],[1.1074,-0.010],[1.1083,-0.050],[1.1096,-0.017],[1.1105,0.000],[1.1114,0.003],[1.1123,-0.037],[1.1132,-0.057],[1.1142,-0.047],[1.1148,-0.077],[1.1157,-0.070],[1.1166,-0.043],[1.1175,0.003],[1.1184,-0.037],[1.1191,-0.060],[1.1202,-0.053]];

const spectra = [specM00, specM43, specK86, specK29, specG71, specG14, specF57, specF00];

const dashFor = { solid: [], dashed: [14, 8], dashdot: [16, 5, 3, 5], dotted: [2.5, 6] };
const PINK = '#ddbaba';
const BLUE = '#c8def0';

const datasets = [];
spectra.forEach((s, i) => {
  datasets.push({
    label: spectralTypes[i],
    data: s.map(p => ({ x: p[0], y: p[1] })),
    borderColor: '#000', borderWidth: 1.8,
    pointRadius: 0, cubicInterpolationMode: 'monotone', fill: false, order: 0
  });
});
lineWaves.forEach((w, i) => {
  datasets.push({
    label: 'line' + i,
    data: [{ x: w, y: lineTops[i] }, { x: w, y: bandRange[0] }],
    borderColor: '#000', borderWidth: 2, borderDash: dashFor[lineStyles[i]],
    borderCapStyle: 'butt', pointRadius: 0, tension: 0, fill: false, order: 1
  });
});
bracketLeft.forEach((w, i) => {
  datasets.push({
    label: 'bracket' + i,
    data: [{ x: w, y: bracketTop[i] }, { x: bracketRight[i], y: bracketTop[i] }],
    borderColor: '#000', borderWidth: 2, pointRadius: 0, fill: false, order: 1
  });
});

function makeHatch(ctx) {
  const c = document.createElement('canvas');
  c.width = 15; c.height = 15;
  const g = c.getContext('2d');
  g.strokeStyle = BLUE; g.lineWidth = 5;
  g.beginPath();
  g.moveTo(-3, 18); g.lineTo(18, -3);
  g.moveTo(-3, 3); g.lineTo(3, -3);
  g.moveTo(12, 18); g.lineTo(18, 12);
  g.stroke();
  return ctx.createPattern(c, 'repeat');
}

const bandsPlugin = {
  id: 'bands',
  beforeDatasetsDraw(chart) {
    const { ctx, scales: { x, y } } = chart;
    const yTop = y.getPixelForValue(bandRange[1]);
    const yBot = y.getPixelForValue(bandRange[0]);
    ctx.save();
    const rect = (b, style) => {
      const x0 = x.getPixelForValue(b[0]), x1 = x.getPixelForValue(b[1]);
      ctx.fillStyle = style;
      ctx.fillRect(x0, yTop, x1 - x0, yBot - yTop);
    };
    pinkBands.forEach(b => rect(b, PINK));
    blueBands.forEach(b => rect(b, BLUE));
    rect(hatchBand, makeHatch(ctx));
    ctx.restore();
  }
};

const framePlugin = {
  id: 'frame',
  afterDatasetsDraw(chart) {
    const { ctx, chartArea: a, scales: { x, y } } = chart;
    ctx.save();
    ctx.strokeStyle = '#555';
    ctx.lineWidth = 1.5;
    ctx.strokeRect(a.left, a.top, a.right - a.left, a.bottom - a.top);
    ctx.beginPath();
    xMinorTicks.forEach(v => {
      const px = Math.round(x.getPixelForValue(v)) + 0.5;
      const len = xTickLabels.some(t => Math.abs(t - v) < 1e-6) ? 33 : 16;
      ctx.moveTo(px, a.bottom); ctx.lineTo(px, a.bottom - len);
      ctx.moveTo(px, a.top); ctx.lineTo(px, a.top + len);
    });
    yMinorTicks.forEach(v => {
      const py = Math.round(y.getPixelForValue(v)) + 0.5;
      const len = yTickLabels.some(t => Math.abs(t - v) < 1e-6) ? 21 : 11;
      ctx.moveTo(a.left, py); ctx.lineTo(a.left + len, py);
      ctx.moveTo(a.right, py); ctx.lineTo(a.right - len, py);
    });
    ctx.stroke();

    // line identifications
    ctx.fillStyle = '#111';
    ctx.font = '31px "Liberation Serif", serif';
    ctx.textAlign = 'center';
    ctx.textBaseline = 'middle';
    labelTexts.forEach((t, i) => {
      ctx.fillText(t, x.getPixelForValue(labelWaves[i]), y.getPixelForValue(labelRows[i]));
    });

    // spectral type tags
    ctx.fillStyle = '#333';
    ctx.font = '26px "Liberation Serif", serif';
    ctx.textAlign = 'right';
    spectralTypes.forEach((t, i) => {
      ctx.fillText(t, x.getPixelForValue(sptLabelWave), y.getPixelForValue(sptLabelY[i]));
    });
    ctx.restore();
  }
};

new Chart(document.getElementById('chart'), {
  type: 'line',
  data: { datasets },
  options: {
    responsive: false,
    animation: false,
    devicePixelRatio: 1,
    layout: { padding: { top: 0, right: 1, bottom: 0, left: 0 } },
    plugins: {
      legend: { display: false },
      tooltip: { enabled: false },
      title: {
        display: true, text: 'Dwarfs', color: '#666',
        font: { family: 'Liberation Mono', size: 46, weight: 'normal', lineHeight: 0.9 },
        padding: { top: 0, bottom: 9.6 }
      }
    },
    scales: {
      x: {
        type: 'linear', min: 0.93, max: 1.12,
        grid: { display: false, drawTicks: false },
        border: { display: false },
        ticks: {
          color: '#333', padding: 29, maxRotation: 0, autoSkip: false,
          font: { family: 'Liberation Serif', size: 30 },
          callback: v => v.toFixed(2)
        },
        afterBuildTicks: s => { s.ticks = xTickLabels.map(v => ({ value: v })); },
        afterFit: s => { s.height = 105; },
        title: {
          display: true, text: 'λ[μm]', color: '#333',
          font: { family: 'Liberation Serif', size: 42, lineHeight: 1.0 },
          padding: { top: 0, bottom: 0 }
        }
      },
      y: {
        type: 'linear', min: -0.25, max: 2.9,
        grid: { display: false, drawTicks: false },
        border: { display: false },
        ticks: {
          color: '#555', padding: 9,
          font: { family: 'Liberation Mono', size: 34 },
          callback: v => v.toFixed(1)
        },
        afterBuildTicks: s => { s.ticks = yTickLabels.map(v => ({ value: v })); },
        afterFit: s => { s.width = 122; },
        title: {
          display: true, text: 'Derivative + Constant', color: '#555',
          font: { family: 'Liberation Serif', size: 44, lineHeight: 0.7 },
          padding: 0
        }
      }
    }
  },
  plugins: [bandsPlugin, framePlugin]
});
</script>
</body>
</html>
